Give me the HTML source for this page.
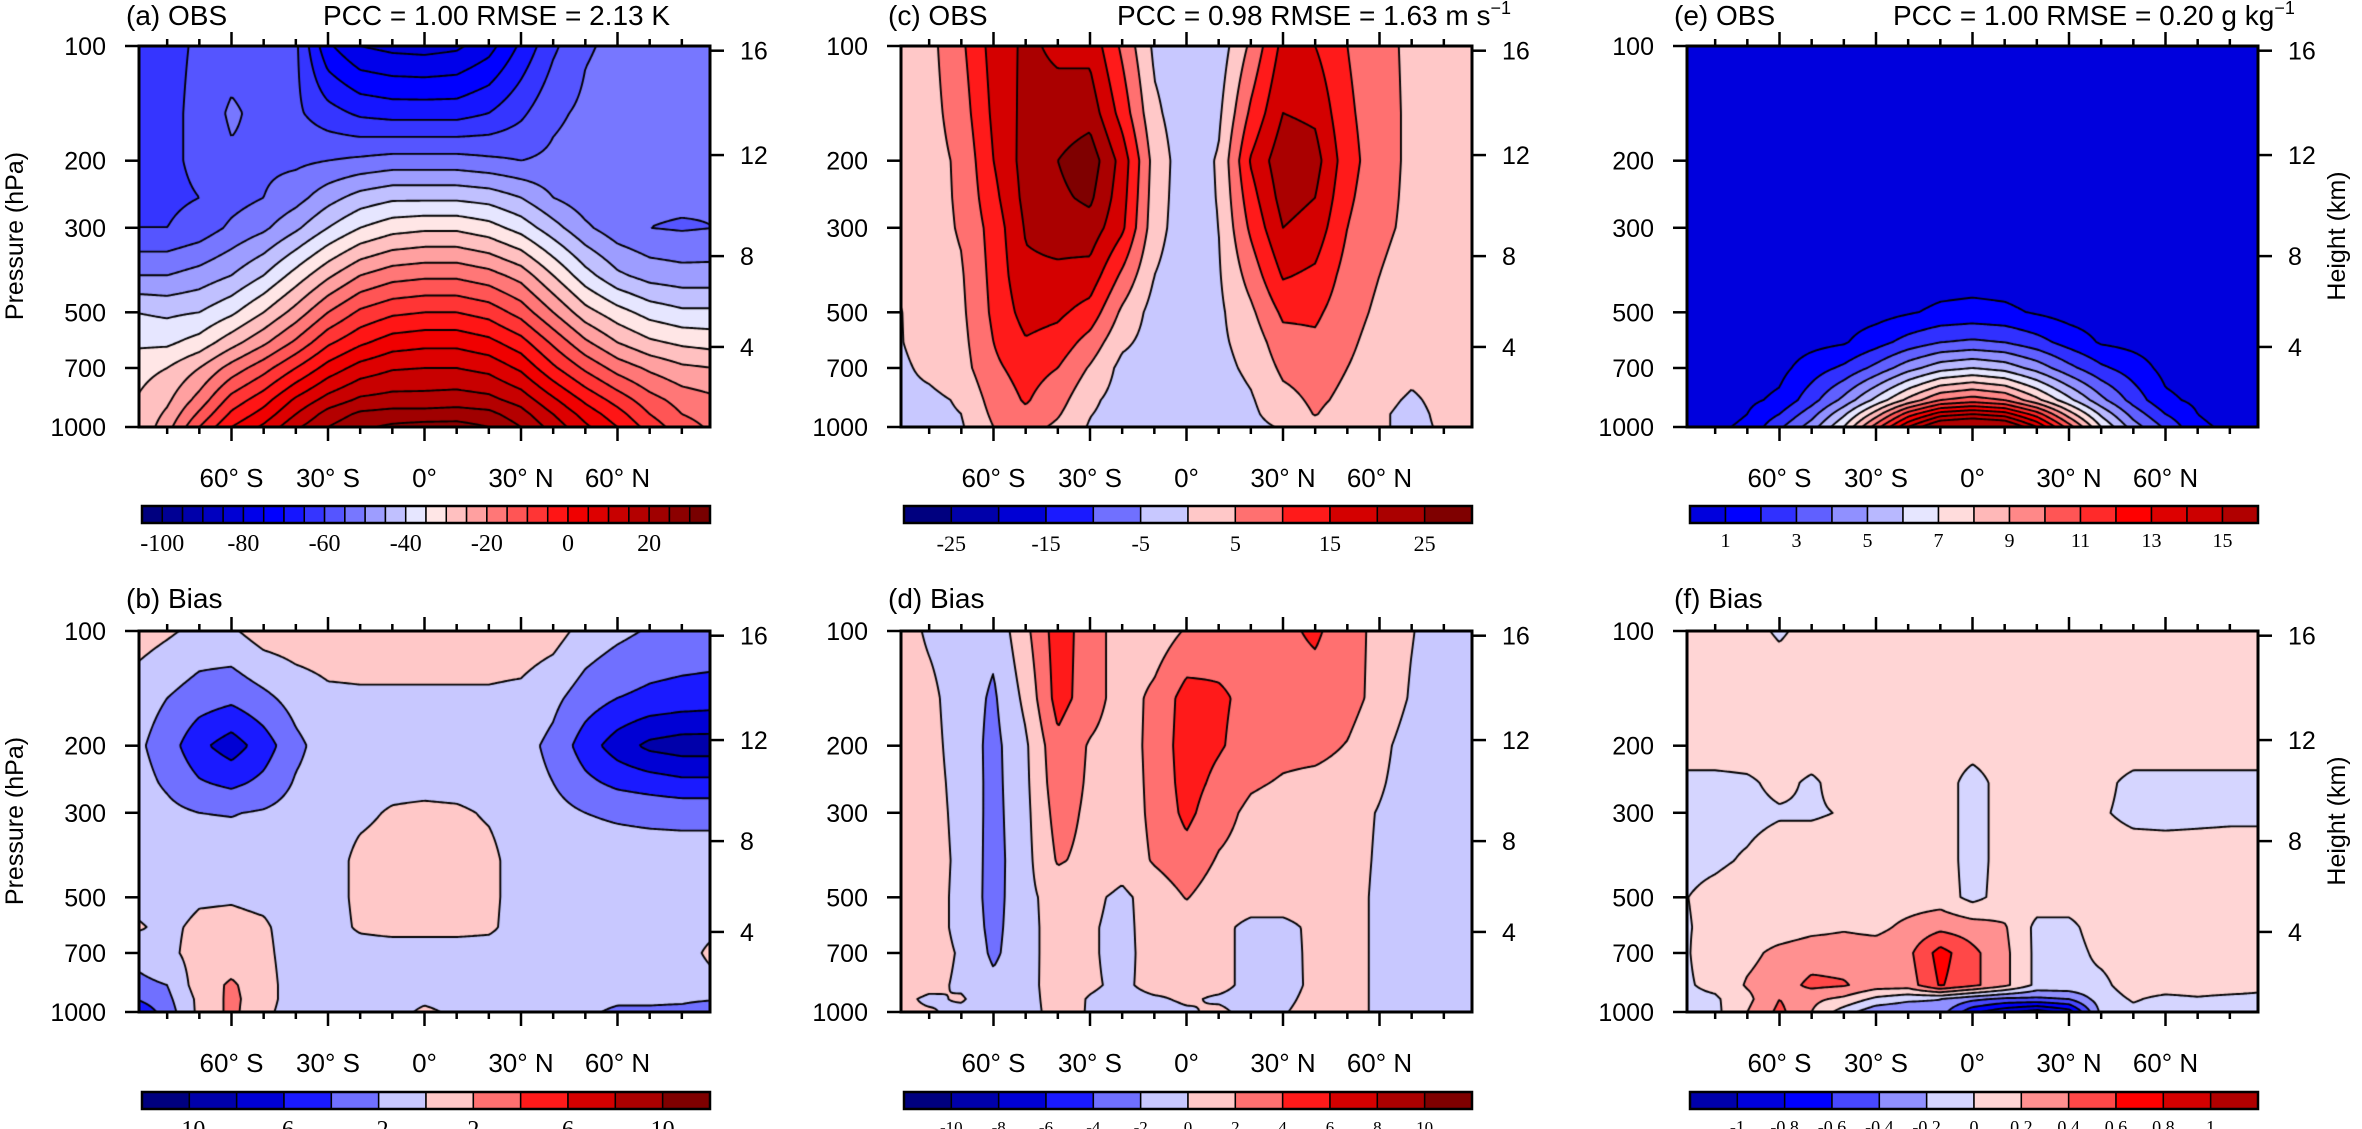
<!DOCTYPE html>
<html><head><meta charset="utf-8">
<style>
body{margin:0;width:2362px;height:1129px;background:#fff;overflow:hidden;position:relative;font-family:"Liberation Sans",sans-serif}
canvas{position:absolute}
#overlay{position:absolute;left:0;top:0}
</style></head>
<body>
<canvas id="cv-a" style="left:139px;top:46px" width="571" height="381"></canvas>
<canvas id="cv-b" style="left:139px;top:631px" width="571" height="381"></canvas>
<canvas id="cv-c" style="left:901px;top:46px" width="571" height="381"></canvas>
<canvas id="cv-d" style="left:901px;top:631px" width="571" height="381"></canvas>
<canvas id="cv-e" style="left:1687px;top:46px" width="571" height="381"></canvas>
<canvas id="cv-f" style="left:1687px;top:631px" width="571" height="381"></canvas>
<svg id="overlay" width="2362" height="1129" font-family="Liberation Sans, sans-serif">
<g font-size="28" fill="#000">
<text x="126" y="25">(a) OBS</text>
<text x="323" y="25">PCC = 1.00 RMSE = 2.13 K</text>
<text x="888" y="25">(c) OBS</text>
<text x="1117" y="25">PCC = 0.98 RMSE = 1.63 m s<tspan font-size="18" dy="-11">−1</tspan></text>
<text x="1674" y="25">(e) OBS</text>
<text x="1893" y="25">PCC = 1.00 RMSE = 0.20 g kg<tspan font-size="18" dy="-11">−1</tspan></text>
<text x="126" y="608">(b) Bias</text>
<text x="888" y="608">(d) Bias</text>
<text x="1674" y="608">(f) Bias</text>
</g>
<g font-size="25" text-anchor="middle">
<text transform="translate(23,236) rotate(-90)">Pressure (hPa)</text>
<text transform="translate(23,821) rotate(-90)">Pressure (hPa)</text>
<text transform="translate(2345,236) rotate(-90)">Height (km)</text>
<text transform="translate(2345,821) rotate(-90)">Height (km)</text>
</g>
</svg>
<script>
// ---------- data ----------
const LATS=[-90,-80,-70,-60,-50,-40,-30,-20,-10,0,10,20,30,40,50,60,70,80,90];
const PLEVS=[1000,925,850,700,600,500,400,300,250,200,150,100];

const tempObs=[
[-30,-22,-10,0,6,14,20,24,26,27,27,25,20,13,6,0,-7,-13,-16],
[-30,-24,-14,-4,2,10,17,21,22,22,22.5,21.5,17,10,3,-3,-10,-15,-17],
[-30,-26,-18,-8,-2,6,12,16,17,17,17.5,16.5,13,6,-1,-7,-13,-17,-19],
[-32,-30,-25,-18,-12,-5,2,7,9.5,10,10,8.5,4,-4,-11,-17,-21,-24,-25],
[-36,-36,-33,-27,-21,-14,-6,-1,2.5,3.5,3.5,1.5,-3,-11,-19,-25,-29,-31,-32],
[-40,-41,-40,-36,-30,-23,-15,-9,-6,-5,-5,-7,-12,-20,-28,-33,-37,-39,-39],
[-50,-50,-48,-45,-40,-33,-26,-20,-17,-16,-16,-18,-22,-30,-38,-44,-47,-48,-48],
[-60,-60,-58,-54,-51,-46,-40,-35,-32,-31,-31,-33,-37,-43,-49,-53,-55,-55.5,-55],
[-61,-61,-60,-57,-55,-52,-47,-43,-41,-41,-41,-42,-45,-50,-53,-54,-54,-54,-54.5],
[-62,-61,-59,-56,-56,-56,-55,-54,-53,-53,-53,-54,-55,-54,-53,-52,-52,-52,-53],
[-62,-61,-59,-54,-57,-59,-63,-66,-67,-67,-67,-65,-61,-56,-54,-53,-53,-53,-53],
[-62,-61,-59.5,-58,-58,-59,-74,-80,-81.5,-82,-81,-77,-69,-61,-55.5,-54,-53.5,-53.5,-53.5]];

const tempBias=[
[-6,-3,0.5,2.5,0.5,-1,-1,-1,-1,0.5,-0.5,-1,-1,-1,-1.5,-2.5,-2.5,-2.8,-4],
[-4,-2.5,0.5,2.5,0.8,-1,-1,-1,-1,-0.5,-1,-1,-1,-1,-1,-1.5,-1.5,-1.5,-1.8],
[-2.5,-2,1,2.3,0.8,-1,-1,-1,-1,-1,-1,-1,-1,-1,-1,-1,-1,-1,-0.5],
[-1.5,-0.5,0.8,0.8,0.5,-1,-1,-1,-1,-1,-1,-1,-1,-1,-1,-1,-1,-0.8,0.5],
[0.3,-0.5,0.5,0.6,0.3,-1,-0.9,0.3,0.6,0.6,0.6,0.4,-1,-1,-1,-1,-1,-0.8,-0.4],
[-0.6,-1,-0.3,-0.2,-0.5,-1,-0.9,0.5,0.8,0.9,0.8,0.5,-0.9,-1,-1,-1,-1,-1,-0.8],
[-1,-1,-1,-1,-1,-1,-0.9,0.5,0.8,0.9,0.8,0.5,-0.9,-1,-1,-1,-1,-1,-1],
[-1,-1.5,-2,-2.1,-1.8,-1.2,-0.9,-0.4,0.2,0.4,0.3,-0.2,-0.9,-1.3,-2,-2.3,-2.5,-2.6,-2.6],
[-1.2,-2.3,-3.8,-4.5,-3.5,-1.8,-1,-0.8,-0.6,-0.6,-0.7,-0.9,-1.2,-2,-3.5,-4.5,-5,-5.5,-5.5],
[-1.5,-3,-5.5,-7,-5,-2.5,-1,-0.8,-0.7,-0.7,-0.8,-1,-1.3,-2.5,-5,-7,-8.5,-9,-9],
[-1,-2,-3,-3.5,-2.5,-1.2,-0.4,-0.3,-0.3,-0.3,-0.3,-0.3,-0.5,-1.5,-3,-4,-4.5,-4.8,-5],
[1,0.3,-0.5,-0.3,1,1.2,1.2,1.2,1.2,1.2,1.2,1.2,1.2,0.8,-0.7,-1.5,-2.2,-2.4,-2.5]];

const uObs=[
[-1,-1,-0.5,5,7,4,-0.5,-2,-3,-3,-3,-1.5,0.5,3.5,2,0.5,-1,0.5,1],
[-1,-1,0,6,9,5.5,0.2,-2,-3,-3,-2.5,-1,2.5,5.2,3,0.5,-1,0.8,1],
[-1,-1,0.5,7,10.5,7,1,-2,-2.5,-3,-2.5,-0.5,3.5,5.8,4,1,-0.5,1,1],
[-1,1,3,9,12,10,4.5,-1.5,-2,-2,-1.5,1,6,7,5,2.5,1,1.5,1.5],
[-0.5,2,3.5,10,14.5,13,8,1,-2,-2,-1,2,8,9,6,3,2,2,2],
[-0.5,2.5,4,11,17,16,13,4,-2,-3,-1,4,11,11,7,4,2.5,2,2],
[0.5,2.8,4.5,11.5,19,19,18,9,0,-3,-0.5,7,15.5,14,8,5,3,2,2],
[2,3,5.5,12,20.5,22,23,16,2,-3,0,11,20,18,10,6,4,3,3],
[2,3,5.8,13.5,21.5,24,26,17,2.5,-3,0.3,13,22,20,11,6.5,4,3,3],
[2,3,6,15,22,25,28,18,3,-3,0.5,15.5,23.5,22,12,7,4,3,3],
[2,3.2,7.5,16,21.5,22,23,13,1,-3,-1,11,20,19,11,7,4,3,3],
[2,3.5,9,17,21,19,18.5,9,-1,-3,-3,6,16.5,15,10,6.5,4,3,3]];

const uBias=[
[0.3,0.2,-0.5,-1,-0.5,0.5,-0.1,-0.6,-0.5,-0.2,0.3,-0.5,-0.1,0.5,0.6,-0.3,-0.3,-1,-1],
[0.5,-0.3,0.2,-1.2,-0.5,0.6,-0.1,-0.5,-0.2,0.2,-0.2,-0.5,-0.3,0.4,0.6,-0.3,-0.6,-1,-1],
[1,0.5,-0.3,-1.5,-0.5,0.7,0.2,-0.3,0.5,0.3,0.4,-0.4,-0.5,0.3,0.6,-0.3,-0.8,-1,-1],
[1,0.8,-0.2,-2.4,-0.6,0.8,0.2,-0.5,0.7,0.9,0.5,-0.5,-0.6,0.4,0.6,-0.3,-0.8,-1,-1],
[1,0.8,-0.5,-2.6,-0.6,0.8,0.2,-0.5,0.8,1,0.5,-0.5,-0.5,0.4,0.6,-0.3,-0.8,-1,-1],
[1,0.8,-0.5,-2.8,-0.5,0.8,0.4,-0.4,0.8,2.1,1,1,1,0.9,0.6,-0.3,-0.8,-1,-1],
[1,0.8,-0.4,-2.8,-0.6,2.2,1.5,0.8,2.2,3.2,1.8,1.2,1,0.8,0.6,-0.2,-0.8,-1,-1],
[1,0.7,-0.5,-2.7,-0.5,2.8,1.6,0.8,2.5,4.5,2.8,1.5,1,0.8,0.6,-0.1,-0.8,-1,-1],
[1,0.65,-0.6,-2.65,-0.4,3.2,1.7,0.9,2.55,4.8,3.5,2.3,1.8,1.5,1.2,0.2,-0.8,-1,-1],
[1,0.6,-0.8,-2.6,-0.3,3.5,1.8,1,2.6,5,4.2,3.2,2.6,2.6,1.9,0.5,-0.8,-1,-1],
[1,0.5,-1,-2.3,0.5,4.8,3,1,2.5,4.8,4.3,3.5,3.3,3.2,2.8,1.3,-0.2,-1,-1],
[1,-0.3,-1,-1.5,1.5,5,3,1,0.8,2.2,3,3.3,3.6,4.3,3,1.3,0.1,-1,-1]];

const qObs=[
[0.6,0.8,1.2,2.8,4.5,7,10.5,14,16.5,17,16.5,14,10.5,7,4.5,2.8,1.2,0.8,0.6],
[0.5,0.6,1,2,3.6,5.8,8.5,11.5,13.5,14,13.5,11.5,8.5,5.8,3.6,2,1,0.6,0.5],
[0.4,0.5,0.8,1.2,2.6,4.3,6.3,8.3,10,10.5,10,8.3,6.3,4.3,2.6,1.2,0.8,0.5,0.4],
[0.2,0.3,0.5,0.7,1.5,2.2,3.3,4.6,5.6,6,5.6,4.6,3.3,2.2,1.5,0.7,0.5,0.3,0.2],
[0.1,0.2,0.3,0.5,0.7,0.9,1.6,2.4,3,3.2,3,2.4,1.6,0.9,0.7,0.5,0.3,0.2,0.1],
[0.1,0.1,0.15,0.25,0.35,0.5,0.6,0.9,1.2,1.3,1.2,0.9,0.6,0.5,0.35,0.25,0.15,0.1,0.1],
[0.05,0.05,0.05,0.1,0.15,0.2,0.3,0.4,0.5,0.55,0.5,0.4,0.3,0.2,0.15,0.1,0.05,0.05,0.05],
[0.02,0.02,0.02,0.03,0.05,0.08,0.1,0.12,0.15,0.15,0.15,0.12,0.1,0.08,0.05,0.03,0.02,0.02,0.02],
[0.02,0.02,0.02,0.02,0.03,0.04,0.05,0.06,0.07,0.07,0.07,0.06,0.05,0.04,0.03,0.02,0.02,0.02,0.02],
[0.02,0.02,0.02,0.02,0.02,0.02,0.02,0.03,0.03,0.03,0.03,0.03,0.02,0.02,0.02,0.02,0.02,0.02,0.02],
[0.02,0.02,0.02,0.02,0.02,0.02,0.02,0.02,0.02,0.02,0.02,0.02,0.02,0.02,0.02,0.02,0.02,0.02,0.02],
[0.02,0.02,0.02,0.02,0.02,0.02,0.02,0.02,0.02,0.02,0.02,0.02,0.02,0.02,0.02,0.02,0.02,0.02,0.02]];

const qBias=[
[-0.05,-0.05,0.2,0.45,0.2,-0.1,-0.35,-0.4,-0.3,-0.75,-0.95,-1.1,-0.9,-0.15,-0.05,-0.1,-0.1,-0.05,-0.05],
[-0.05,-0.03,0.15,0.4,0.25,0.15,-0.05,-0.15,-0.2,-0.35,-0.45,-0.45,-0.4,-0.1,0.02,-0.05,-0.02,-0.05,-0.05],
[-0.03,0.05,0.22,0.3,0.45,0.42,0.3,0.3,0.62,0.45,0.25,-0.05,-0.05,-0.05,0.1,0.1,0.1,0.1,0.05],
[-0.03,0.1,0.15,0.25,0.3,0.3,0.3,0.35,0.68,0.45,0.25,-0.05,-0.08,0.05,0.1,0.1,0.1,0.1,0.1],
[-0.02,0.05,0.1,0.1,0.15,0.18,0.15,0.25,0.35,0.3,0.22,-0.05,-0.05,0.1,0.1,0.1,0.1,0.1,0.1],
[-0.01,0.05,0.1,0.1,0.1,0.1,0.1,0.1,0.1,-0.06,0.08,0.1,0.1,0.1,0.1,0.1,0.1,0.1,0.1],
[-0.05,-0.03,0.02,0.1,0.1,0.1,0.1,0.1,0.1,-0.08,0.08,0.1,0.1,0.1,0.1,0.1,0.1,0.1,0.1],
[-0.05,-0.05,-0.05,-0.02,-0.02,0.01,0.1,0.1,0.1,-0.08,0.08,0.1,0.1,0.02,-0.05,-0.06,-0.05,-0.04,-0.04],
[-0.05,-0.05,-0.03,0.05,-0.03,0.08,0.1,0.1,0.1,-0.08,0.08,0.1,0.1,0.05,-0.05,-0.05,-0.05,-0.05,-0.05],
[0.1,0.1,0.1,0.1,0.1,0.1,0.1,0.1,0.1,0.08,0.1,0.1,0.1,0.1,0.1,0.1,0.1,0.1,0.1],
[0.1,0.1,0.1,0.1,0.1,0.1,0.1,0.1,0.1,0.1,0.1,0.1,0.1,0.1,0.1,0.1,0.1,0.1,0.1],
[0.1,0.1,0.05,-0.02,0.05,0.1,0.1,0.1,0.1,0.1,0.1,0.1,0.1,0.1,0.1,0.1,0.1,0.1,0.1]];

const tempLevels=[-100,-95,-90,-85,-80,-75,-70,-65,-60,-55,-50,-45,-40,-35,-30,-25,-20,-15,-10,-5,0,5,10,15,20,25,30];
const biasLevels=[-10,-8,-6,-4,-2,0,2,4,6,8,10];
const uLevels=[-25,-20,-15,-10,-5,0,5,10,15,20,25];
const qLevels=[1,2,3,4,5,6,7,8,9,10,11,12,13,14,15];
const qBiasLevels=[-1,-0.8,-0.6,-0.4,-0.2,0,0.2,0.4,0.6,0.8,1];

const tempCbLabels=[-100,-80,-60,-40,-20,0,20];
const biasCbLabels=[-10,-6,-2,2,6,10];
const uCbLabels=[-25,-15,-5,5,15,25];
const uBiasCbLabels=[-10,-8,-6,-4,-2,0,2,4,6,8,10];
const qCbLabels=[1,3,5,7,9,11,13,15];
const qBiasCbLabels=[-1,-0.8,-0.6,-0.4,-0.2,0,0.2,0.4,0.6,0.8,1];

const tempColors=['#00007f','#000094','#0000aa','#0000bf','#0000d4','#0000ea','#0000ff','#1515ff','#3535ff','#5555ff','#7777ff','#9d9dff','#c0c0ff','#e6e6ff','#ffe6e6','#ffc0c0','#ffa0a0','#ff7777','#ff5555','#ff3535','#ff1515','#f00000','#dd0000','#c80000','#b40000','#a00000','#8c0000','#780000'];
const b2rColors=['#00007f','#0000aa','#0000d4','#1a1aff','#7070ff','#c8c8ff','#ffc8c8','#ff7070','#ff1a1a','#d40000','#aa0000','#7f0000'];
const qColors=['#0000dd','#0000ff','#3030ff','#6060ff','#9090ff','#b8b8ff','#e6e6ff','#ffdcdc','#ffb8b8','#ff8888','#ff5555','#ff2a2a','#ff0000','#dd0000','#cc0000','#b00000'];
const qBiasColors=['#0000aa','#0000dd','#0000ff','#4848ff','#9090ff','#d5d5ff','#ffd5d5','#ff9090','#ff4848','#ff0000','#d40000','#b00000'];

const latTickValues=[-60,-30,0,30,60];
const latTickLabels=['60° S','30° S','0°','30° N','60° N'];
const pTicks=[100,200,300,500,700,1000];
const zTicks=[4,8,12,16];

// ---------- layout ----------
const W=571,H=381,PXDEG=96.5/30;
const panels=[
 {id:'a',left:139,top:46,field:tempObs,levels:tempLevels,colors:tempColors,cb:tempCbLabels,cbFont:24},
 {id:'b',left:139,top:631,field:tempBias,levels:biasLevels,colors:b2rColors,cb:biasCbLabels,cbFont:24},
 {id:'c',left:901,top:46,field:uObs,levels:uLevels,colors:b2rColors,cb:uCbLabels,cbFont:22},
 {id:'d',left:901,top:631,field:uBias,levels:biasLevels,colors:b2rColors,cb:uBiasCbLabels,cbFont:17},
 {id:'e',left:1687,top:46,field:qObs,levels:qLevels,colors:qColors,cb:qCbLabels,cbFont:20},
 {id:'f',left:1687,top:631,field:qBias,levels:qBiasLevels,colors:qBiasColors,cb:qBiasCbLabels,cbFont:18}
];

function hex(c){return [parseInt(c.substr(1,2),16),parseInt(c.substr(3,2),16),parseInt(c.substr(5,2),16)];}
const LOGP=PLEVS.map(p=>Math.log(p));
function sampler(field){
  return function(x,y){
    const lat=(x-W/2)/PXDEG;
    let fi=(lat+90)/10; if(fi<0)fi=0; if(fi>18)fi=18;
    let i0=Math.min(17,Math.floor(fi)); const u=fi-i0;
    const lp=Math.log(100*Math.pow(10,y/H));
    let k=0; while(k<PLEVS.length-2 && lp<LOGP[k+1]) k++;
    let t=(LOGP[k]-lp)/(LOGP[k]-LOGP[k+1]); if(t<0)t=0; if(t>1)t=1;
    const r0=field[k],r1=field[k+1];
    const v0=r0[i0]*(1-u)+r0[i0+1]*u, v1=r1[i0]*(1-u)+r1[i0+1]*u;
    return v0*(1-t)+v1*t;
  };
}
function cls(v,levels){let c=0;for(let i=0;i<levels.length;i++){if(v>=levels[i])c++;}return c;}

function renderPanel(P){
  const cv=document.getElementById('cv-'+P.id);
  const ctx=cv.getContext('2d');
  const f=sampler(P.field);
  const img=ctx.createImageData(W,H);
  const cols=P.colors.map(hex);
  for(let y=0;y<H;y++)for(let x=0;x<W;x++){
    const c=cols[cls(f(x+0.5,y+0.5),P.levels)];
    const o=(y*W+x)*4; img.data[o]=c[0];img.data[o+1]=c[1];img.data[o+2]=c[2];img.data[o+3]=255;
  }
  ctx.putImageData(img,0,0);
  const S=2, nx=Math.ceil(W/S)+1, ny=Math.ceil(H/S)+1;
  const G=[];
  for(let j=0;j<ny;j++){const row=[];for(let i=0;i<nx;i++)row.push(f(Math.min(i*S,W),Math.min(j*S,H)));G.push(row);}
  ctx.strokeStyle='#000';ctx.lineWidth=1.9;ctx.lineCap='round';ctx.beginPath();
  for(const L of P.levels){
    for(let j=0;j<ny-1;j++)for(let i=0;i<nx-1;i++){
      const x0=Math.min(i*S,W),x1=Math.min((i+1)*S,W),y0=Math.min(j*S,H),y1=Math.min((j+1)*S,H);
      const a=G[j][i],b=G[j][i+1],c=G[j+1][i+1],d=G[j+1][i];
      const pts=[];
      if((a<L)!==(b<L)){const t=(L-a)/(b-a);pts.push([x0+t*(x1-x0),y0]);}
      if((b<L)!==(c<L)){const t=(L-b)/(c-b);pts.push([x1,y0+t*(y1-y0)]);}
      if((d<L)!==(c<L)){const t=(L-d)/(c-d);pts.push([x0+t*(x1-x0),y1]);}
      if((a<L)!==(d<L)){const t=(L-a)/(d-a);pts.push([x0,y0+t*(y1-y0)]);}
      for(let q=0;q+1<pts.length;q+=2){ctx.moveTo(pts[q][0],pts[q][1]);ctx.lineTo(pts[q+1][0],pts[q+1][1]);}
    }
  }
  ctx.stroke();
}

// ---------- axes & colorbars ----------
const NS='http://www.w3.org/2000/svg';
const svg=document.getElementById('overlay');
function mk(tag,attrs,parent){const e=document.createElementNS(NS,tag);for(const k in attrs)e.setAttribute(k,attrs[k]);(parent||svg).appendChild(e);return e;}
function heightToP(z){const m=z*1000;return m<=11000?1013.25*Math.pow(1-2.25577e-5*m,5.25588):226.32*Math.exp(-(m-11000)/6341.6);}
function yOfP(P,p){return P.top+Math.log10(p/100)*H;}
function xOfLat(P,lat){return P.left+W/2+lat*PXDEG;}

for(const P of panels){
  renderPanel(P);
  const g=mk('g',{});
  
  
  const fr=mk('rect',{x:P.left,y:P.top,width:W,height:H,fill:'none',stroke:'#000','stroke-width':3},g);
  
  
  for(let lat=-80;lat<=80;lat+=10){
    const x=xOfLat(P,lat), major=(lat%30===0), len=major?14:7;
    const t1=mk('line',{x1:x,x2:x,y1:P.top,y2:P.top-len,stroke:'#000','stroke-width':2.5},g);
    
    
    const t2=mk('line',{x1:x,x2:x,y1:P.top+H,y2:P.top+H+len,stroke:'#000','stroke-width':2.5},g);
    
    
  }
  latTickValues.forEach((lat,i)=>{
    const t=mk('text',{x:xOfLat(P,lat),y:P.top+H+60,'font-size':26,'text-anchor':'middle'},g);
    t.textContent=latTickLabels[i];
    
    
  });
  pTicks.forEach(p=>{
    const y=yOfP(P,p);
    const l=mk('line',{x1:P.left,x2:P.left-14,y1:y,y2:y,stroke:'#000','stroke-width':2.5},g);
    
    
    const t=mk('text',{x:P.left-33,y:y+9,'font-size':25,'text-anchor':'end'},g);
    t.textContent=String(p);
    
    
  });
  zTicks.forEach(z=>{
    const y=yOfP(P,heightToP(z));
    const l=mk('line',{x1:P.left+W,x2:P.left+W+14,y1:y,y2:y,stroke:'#000','stroke-width':2.5},g);
    
    
    const t=mk('text',{x:P.left+W+30,y:y+9,'font-size':25,'text-anchor':'start'},g);
    t.textContent=String(z);
    
    
  });
  const cbTop=P.top<100?506:1092, cbH=17, cbL=P.left+3, cbW=W-3;
  const n=P.colors.length, bw=cbW/n;
  const cg=mk('g',{},g);
  
  
  P.colors.forEach((c,i)=>{
    const r=mk('rect',{x:cbL+i*bw,y:cbTop,width:bw,height:cbH,fill:c,stroke:'#000','stroke-width':1.5},cg);
    
    
  });
  const ob=mk('rect',{x:cbL,y:cbTop,width:cbW,height:cbH,fill:'none',stroke:'#000','stroke-width':2.5},cg);
  
  
  P.cb.forEach(v=>{
    const j=P.levels.indexOf(v);
    const t=mk('text',{x:cbL+(j+1)*bw,y:cbTop+cbH+(P.cbFont>=22?28:24),'font-size':P.cbFont,'text-anchor':'middle','font-family':'Liberation Serif, serif'},cg);
    t.textContent=String(v);
    
    
  });
}
</script>
</body></html>
